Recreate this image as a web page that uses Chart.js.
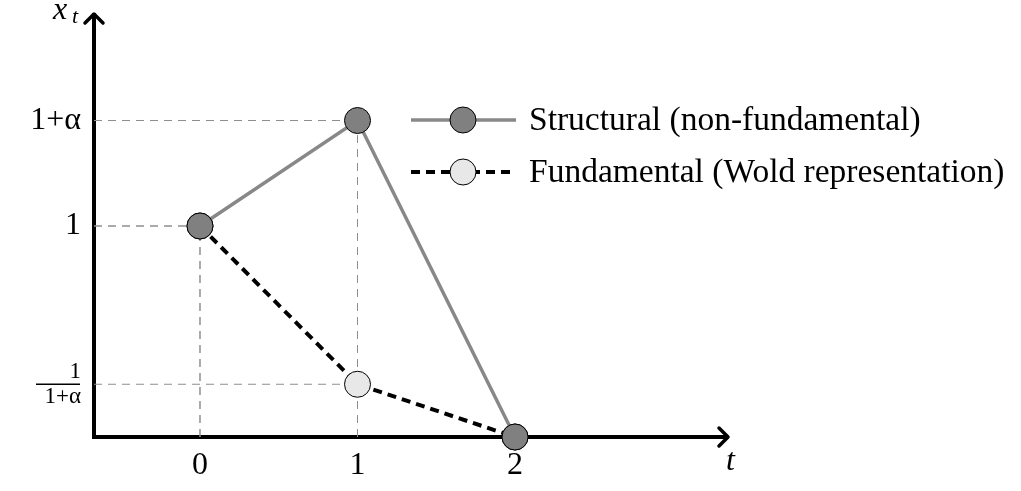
<!DOCTYPE html>
<html>
<head>
<meta charset="utf-8">
<script src="https://cdn.jsdelivr.net/npm/chart.js@4.4.1/dist/chart.umd.min.js"></script>
<style>
  html, body { margin: 0; padding: 0; background: #fff; }
  #wrap { width: 1021px; height: 491px; }
</style>
</head>
<body>
<div id="wrap"><canvas id="chart"></canvas></div>
<script>
// data
const steps = [0, 1, 2];
const structural = [1, 1.5, 0];
const fundamental = [1, 0.25, 0];
const xTickValues = [0, 1, 2];
const yTickValues = [0.25, 1, 1.5];
const yTickLabels = [['1', '1+α'], '1', '1+α'];
const seriesNames = ['Structural (non-fundamental)', 'Fundamental (Wold representation)'];

const SERIF = '"Liberation Serif", "DejaVu Serif", serif';

const toPoints = (ys) => steps.map((t, i) => ({ x: t, y: ys[i] }));

// dashed guide lines from the axes to each point
const guides = {
    id: 'guides',
    beforeDatasetsDraw(chart) {
        const { ctx, chartArea, scales: { x, y } } = chart;
        ctx.save();
        ctx.strokeStyle = '#8e8e8e';
        ctx.lineWidth = 1;
        ctx.setLineDash([8, 6]);
        chart.data.datasets.forEach(ds => {
            ds.data.forEach(p => {
                if (p.y === 0) return;
                const px = x.getPixelForValue(p.x);
                const py = y.getPixelForValue(p.y);
                ctx.beginPath();
                ctx.moveTo(chartArea.left, py);
                ctx.lineTo(px, py);
                ctx.moveTo(px, chartArea.bottom);
                ctx.lineTo(px, py);
                ctx.stroke();
            });
        });
        ctx.restore();
    }
};

// arrows, axis names, fraction bar, legend
const decor = {
    id: 'decor',
    afterDraw(chart) {
        const { ctx, chartArea } = chart;
        ctx.save();
        ctx.strokeStyle = '#000';
        ctx.lineWidth = 3.5;
        ctx.lineCap = 'round';
        ctx.lineJoin = 'round';
        // x arrow
        const xr = chartArea.right + 1, yb = chartArea.bottom;
        ctx.beginPath();
        ctx.moveTo(xr - 9, yb - 9); ctx.lineTo(xr, yb); ctx.lineTo(xr - 9, yb + 9);
        ctx.stroke();
        // y arrow
        const xl = chartArea.left, yt = chartArea.top - 1;
        ctx.beginPath();
        ctx.moveTo(xl - 9, yt + 9); ctx.lineTo(xl, yt); ctx.lineTo(xl + 9, yt + 9);
        ctx.stroke();

        // axis names
        ctx.fillStyle = '#000';
        ctx.textBaseline = 'alphabetic';
        ctx.textAlign = 'left';
        ctx.font = 'italic 32px ' + SERIF;
        ctx.fillText('x', 53, 19);
        ctx.font = 'italic 22px ' + SERIF;
        ctx.fillText('t', 72, 23);
        ctx.font = 'italic 32px ' + SERIF;
        ctx.fillText('t', 726, 470);

        // fraction bar for 1/(1+α)
        const yFrac = chart.scales.y.getPixelForValue(yTickValues[0]);
        ctx.lineWidth = 1.3;
        ctx.lineCap = 'butt';
        ctx.beginPath();
        ctx.moveTo(36, yFrac);
        ctx.lineTo(80, yFrac);
        ctx.stroke();

        // legend
        const rows = [120, 172];
        chart.data.datasets.forEach((ds, i) => {
            const ly = rows[i];
            ctx.strokeStyle = ds.borderColor;
            ctx.lineWidth = ds.borderWidth;
            ctx.setLineDash(ds.borderDash || []);
            ctx.beginPath();
            ctx.moveTo(411, ly);
            ctx.lineTo(516, ly);
            ctx.stroke();
            ctx.setLineDash([]);
            ctx.beginPath();
            ctx.arc(463, ly, ds.pointRadius, 0, Math.PI * 2);
            ctx.fillStyle = ds.pointBackgroundColor;
            ctx.fill();
            ctx.lineWidth = 1;
            ctx.strokeStyle = '#000';
            ctx.stroke();
            ctx.fillStyle = '#000';
            ctx.font = '33.5px ' + SERIF;
            ctx.textBaseline = 'middle';
            ctx.fillText(ds.label, 529, ly + 1);
        });
        ctx.restore();
    }
};

new Chart(document.getElementById('chart'), {
    type: 'line',
    data: {
        datasets: [
            {
                label: seriesNames[0],
                data: toPoints(structural),
                borderColor: '#888888',
                borderWidth: 3.5,
                pointRadius: 13,
                pointBackgroundColor: '#808080',
                pointBorderColor: '#000',
                pointBorderWidth: 1,
                clip: false
            },
            {
                label: seriesNames[1],
                data: toPoints(fundamental),
                borderColor: '#000',
                borderWidth: 4,
                borderDash: [9, 6],
                pointRadius: 13,
                pointBackgroundColor: '#e8e8e8',
                pointBorderColor: '#000',
                pointBorderWidth: 1,
                clip: false
            }
        ]
    },
    options: {
        responsive: true,
        maintainAspectRatio: false,
        animation: false,
        layout: { padding: { top: 15, right: 294, left: 0, bottom: 0 } },
        plugins: {
            legend: { display: false },
            tooltip: { enabled: false }
        },
        scales: {
            x: {
                type: 'linear',
                min: -0.673,
                max: 3.346,
                afterFit: s => { s.height = 54; s.paddingLeft = 0; s.paddingRight = 0; },
                afterBuildTicks: s => { s.ticks = xTickValues.map(v => ({ value: v })); },
                grid: { display: false, drawTicks: false },
                border: { color: '#000', width: 4 },
                ticks: {
                    color: '#000',
                    padding: 9,
                    font: { family: SERIF, size: 32 }
                }
            },
            y: {
                min: 0,
                max: 2,
                afterFit: s => { s.width = 94; s.paddingTop = 0; s.paddingBottom = 0; },
                afterBuildTicks: s => { s.ticks = yTickValues.map(v => ({ value: v })); },
                grid: { display: false, drawTicks: false },
                border: { color: '#000', width: 4 },
                ticks: {
                    color: '#000',
                    padding: 13,
                    font: ctx => ctx.index === 0
                        ? { family: SERIF, size: 23, lineHeight: 1.1 }
                        : { family: SERIF, size: 32 },
                    callback: (v, i) => yTickLabels[i]
                }
            }
        }
    },
    plugins: [guides, decor]
});
</script>
</body>
</html>
